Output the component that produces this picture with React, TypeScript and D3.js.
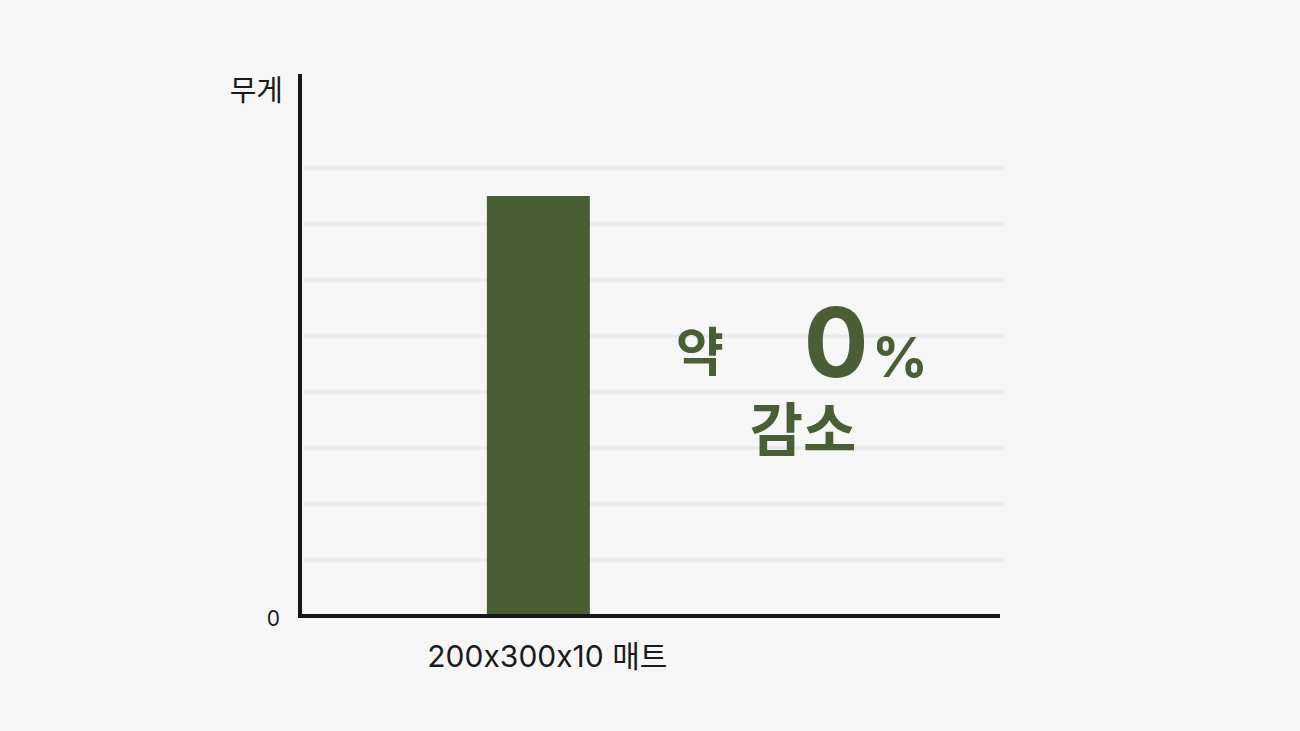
import React from "react";
import * as d3 from "d3";

const categories = ["200x300x10 매트"];
const values = [7.5];
const gridTicks = [1, 2, 3, 4, 5, 6, 7, 8];
const yTickLabels = ["0"];
const yAxisTitle = "무게";
const noteWords = ["약", "0", "%", "감소"];

const W = 1300;
const H = 731;
const BG = "#f6f6f6";
const GREEN = "#4a5e36";
const AXIS = "#18181b";
const FONT = "Inter, 'Noto Sans CJK KR', sans-serif";
const noCalt = { fontFeatureSettings: "'calt' 0", fontVariantLigatures: "none" } as React.CSSProperties;

export default function App() {
  const x0 = 300;
  const x1 = 1000;
  const y0 = 616;
  const yTop = 74;

  const y = d3.scaleLinear().domain([0, 10]).range([y0, y0 - 560]);
  const x = d3
    .scaleBand<string>()
    .domain(categories)
    .range([x0, x1])
    .paddingInner(0)
    .paddingOuter(2.898)
    .align(0.313);

  return (
    <svg
      width={W}
      height={H}
      style={{ position: "absolute", left: 0, top: 0, display: "block" }}
    >
      <rect x={0} y={0} width={W} height={H} fill={BG} />
      {gridTicks.map((t) => (
        <line
          key={t}
          x1={x0 + 4}
          x2={x1 + 3}
          y1={y(t)}
          y2={y(t)}
          stroke="#e8e8e8"
          strokeWidth={3}
        />
      ))}
      {categories.map((c, i) => (
        <rect
          key={c}
          x={x(c)}
          y={y(values[i])}
          width={x.bandwidth()}
          height={y0 - y(values[i])}
          fill={GREEN}
        />
      ))}
      {/* axes */}
      <line x1={x0} x2={x0} y1={yTop} y2={y0 + 2} stroke={AXIS} strokeWidth={4} />
      <line x1={x0 - 2} x2={x1} y1={y0} y2={y0} stroke={AXIS} strokeWidth={4} />
      <text
        x={283}
        y={101}
        textAnchor="end"
        fontFamily={FONT}
        fontSize={29}
        fill="#1a1a1a"
      >
        {yAxisTitle}
      </text>
      {yTickLabels.map((t) => (
        <text
          key={t}
          x={280}
          y={y(+t) + 10}
          textAnchor="end"
          fontFamily={FONT}
          fontSize={21}
          fill="#1a1a1a"
        >
          {t}
        </text>
      ))}
      {categories.map((c) => (
        <text
          key={c}
          x={(x(c) as number) + x.bandwidth() / 2 + 9}
          y={667}
          textAnchor="middle"
          fontFamily={FONT}
          fontSize={30}
          fill="#1a1a1a"
          style={noCalt}
        >
          {c}
        </text>
      ))}
      {/* annotation */}
      <g fontFamily={FONT} fontWeight={700} fill={GREEN}>
        <text x={700} y={371} textAnchor="middle" fontSize={52}>
          {noteWords[0]}
        </text>
        <text x={836} y={377} textAnchor="middle" fontSize={96}>
          {noteWords[1]}
        </text>
        <text x={900} y={377} textAnchor="middle" fontSize={55}>
          {noteWords[2]}
        </text>
        <text x={803} y={451} textAnchor="middle" fontSize={58}>
          {noteWords[3]}
        </text>
      </g>
    </svg>
  );
}
